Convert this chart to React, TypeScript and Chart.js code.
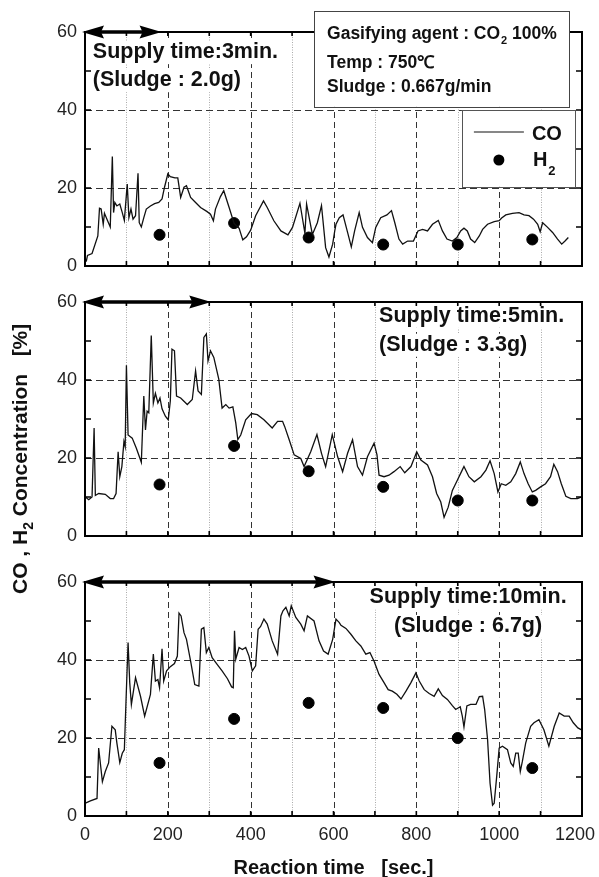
import React, { useEffect, useRef } from 'react';
import { Chart, registerables } from 'chart.js';

Chart.register(...registerables);

const FONT = '"Liberation Sans", Arial, Helvetica, sans-serif';

// ---------- Data ----------
// Panel A: supply time 3 min
const timeA = [3, 6, 17, 31, 35, 39, 44, 47, 53, 61, 66, 69, 72, 77, 84, 90, 95, 102, 106, 111, 116, 122, 128, 131, 136, 142, 148, 158, 168, 178, 186, 192, 200, 206, 217, 224, 231, 239, 245, 255, 267, 279, 294, 303, 310, 315, 327, 335, 348, 360, 372, 381, 390, 400, 412, 431, 440, 456, 473, 490, 501, 519, 531, 535, 549, 561, 571, 581, 589, 598, 603, 606, 614, 623, 634, 643, 651, 662, 670, 682, 694, 702, 714, 729, 740, 748, 758, 767, 779, 793, 804, 815, 827, 839, 853, 863, 874, 887, 898, 907, 915, 923, 931, 941, 952, 960, 972, 988, 1000, 1006, 1016, 1032, 1048, 1060, 1072, 1083, 1093, 1099, 1105, 1117, 1129, 1141, 1151, 1159, 1167];
const coA = [1.1, 2.7, 3.2, 7.7, 14.8, 14.6, 10.7, 13.5, 12, 10, 28.1, 13.7, 16.3, 15.4, 15.9, 13.7, 11.7, 21, 12.4, 14.6, 12, 12.9, 23.8, 11.1, 10, 12.4, 14.6, 15.4, 16, 16.3, 17.2, 20.2, 23.6, 22.9, 22.6, 22.6, 17.6, 20.2, 20.6, 17.6, 16.3, 15, 14, 13.3, 11.6, 14.6, 17.8, 19.3, 15, 10.9, 9.7, 6.7, 7.5, 9.2, 12.9, 16.7, 15, 11.6, 9, 8, 9.9, 16.1, 8.4, 15.9, 8.1, 11.1, 15.5, 4.7, 2.3, 5.6, 9, 10.7, 12.4, 13.1, 8.6, 4.9, 9, 13.7, 9.9, 7.3, 6, 9.9, 12.4, 13.1, 14.2, 11.1, 6.9, 5.6, 6.4, 6.4, 9, 9.4, 9, 10.7, 11.7, 9, 6.9, 6.4, 7.3, 9, 9.7, 9, 6.9, 6, 7.7, 9.4, 10.7, 11.4, 11.6, 12.3, 13.1, 13.5, 13.7, 13.1, 12.9, 12, 10.7, 8.8, 11.1, 9.9, 8.6, 6.9, 5.6, 6.4, 7.3];

// Panel B: supply time 5 min
const timeB = [1, 9, 17, 22, 25, 33, 49, 61, 69, 75, 80, 84, 89, 94, 97, 100, 104, 114, 124, 136, 142, 146, 150, 154, 160, 165, 170, 176, 181, 186, 194, 201, 206, 210, 216, 221, 231, 247, 259, 267, 273, 281, 287, 293, 297, 303, 311, 323, 331, 340, 348, 357, 364, 369, 376, 388, 402, 416, 432, 452, 465, 477, 482, 493, 505, 521, 529, 545, 560, 571, 581, 597, 610, 622, 634, 646, 658, 670, 682, 698, 705, 710, 722, 734, 746, 761, 772, 787, 801, 811, 827, 839, 849, 859, 867, 877, 887, 899, 909, 915, 927, 940, 956, 968, 978, 988, 997, 1005, 1016, 1028, 1040, 1051, 1060, 1070, 1080, 1088, 1100, 1112, 1124, 1132, 1141, 1150, 1161, 1173, 1189, 1199];
const coB = [10, 9.3, 10, 27.7, 10.4, 10.9, 10.7, 9.6, 9.6, 10.9, 21.6, 15.2, 17.8, 24.2, 22.9, 43.8, 25.9, 25.1, 22.5, 18.9, 35.9, 27.2, 32, 31.6, 51.4, 34.1, 36.6, 34.1, 35.4, 32.6, 30.7, 29.8, 34.6, 47.9, 47.5, 35.9, 35.4, 33.7, 35, 42.3, 37.2, 36.3, 50.9, 51.8, 44.9, 47.5, 45.8, 40.2, 32.8, 33.7, 32.8, 33.1, 29, 24.7, 25.9, 29.8, 31.4, 31.1, 29.8, 27.7, 29.4, 29.4, 28.1, 24.7, 20.8, 19.9, 17.8, 21.6, 26, 21.2, 17.8, 26, 20.3, 16.5, 21.2, 24.7, 17.8, 15.6, 20.3, 23.8, 20.8, 15.6, 15.2, 15.6, 16.5, 17.8, 16.2, 17.8, 21.6, 19.5, 18.2, 15.2, 10.9, 8.7, 4.8, 7.4, 11.7, 14.3, 16.5, 17.8, 15.2, 13.9, 15.2, 16.9, 19.3, 16, 11.3, 13.4, 13, 13.9, 16, 19, 16, 13.4, 11.3, 11.7, 12.6, 13.4, 15.2, 18.4, 16.5, 13.4, 10.2, 9.6, 9.6, 10];

// Panel C: supply time 10 min
const timeC = [1, 13, 29, 33, 37, 42, 49, 57, 65, 73, 77, 84, 90, 95, 99, 104, 108, 112, 122, 134, 144, 158, 165, 170, 176, 180, 186, 190, 197, 206, 216, 223, 227, 232, 239, 245, 255, 265, 275, 281, 287, 293, 299, 307, 319, 331, 344, 354, 358, 361, 364, 372, 380, 388, 396, 404, 412, 418, 424, 432, 440, 452, 465, 473, 478, 485, 493, 498, 509, 521, 529, 537, 553, 565, 576, 587, 598, 606, 614, 618, 630, 642, 654, 666, 678, 688, 698, 710, 722, 732, 742, 753, 763, 775, 787, 799, 807, 819, 831, 843, 853, 863, 875, 887, 895, 906, 911, 915, 922, 931, 944, 952, 960, 965, 972, 978, 984, 988, 994, 1000, 1008, 1020, 1028, 1034, 1040, 1046, 1051, 1056, 1064, 1076, 1084, 1096, 1108, 1120, 1133, 1145, 1157, 1169, 1179, 1190, 1199];
const coC = [3.3, 3.9, 4.5, 17.4, 13.6, 8.8, 11.4, 13.6, 23, 22.1, 18.7, 13.7, 16.1, 17, 29.4, 44.5, 34.2, 28.6, 35.5, 30.7, 25.6, 31.2, 41.5, 34.6, 35, 32.9, 42.9, 34.6, 37.2, 38.3, 39.1, 41, 52, 51.3, 47, 45.3, 39.7, 33.7, 33.3, 47.9, 48.3, 41.9, 43.2, 40.6, 38.9, 37.2, 35.2, 33.1, 32.9, 47.5, 40.2, 43.2, 42.7, 43.2, 41, 37.2, 38.5, 47.9, 48.6, 50.5, 49.2, 44.9, 41.5, 51.3, 52.6, 53.5, 51.3, 53.9, 50.9, 49.2, 47.5, 51.3, 50, 44.9, 42.3, 41.5, 45.3, 50.5, 49.6, 48.9, 48.1, 46.6, 44.9, 43.6, 41.5, 41.9, 39.7, 36.3, 34.2, 32.4, 32, 31.2, 30, 32, 34.2, 36.7, 34.6, 32.4, 31.4, 30.7, 32.6, 30.9, 29.9, 28.3, 27.3, 28, 25.6, 22.8, 28.2, 28.6, 28.6, 30.6, 30.7, 27.3, 19.6, 8.4, 2.8, 3.3, 10.1, 17.4, 17.9, 17, 13.6, 12.7, 16.1, 16.1, 11.4, 14, 18.7, 23, 23.9, 24.7, 22.1, 17.9, 23, 26.4, 25.6, 25.6, 23.9, 22.6, 22.1];

// H2 sampling points
const h2Time = [180, 360, 540, 720, 900, 1080];
const h2A = [8, 11, 7.3, 5.5, 5.5, 6.8];
const h2B = [13.2, 23.1, 16.6, 12.6, 9.1, 9.1];
const h2C = [13.6, 24.9, 29, 27.7, 20, 12.3];

// Supply periods (sec.)
const supplyEnd = [180, 300, 600];
const supplyLabels = ['Supply time:3min.', 'Supply time:5min.', 'Supply time:10min.'];
const sludgeLabels = ['(Sludge : 2.0g)', '(Sludge : 3.3g)', '(Sludge : 6.7g)'];

const xTicks = [0, 200, 400, 600, 800, 1000, 1200];
const xMinorGrid = [100, 200, 300, 400, 500, 600, 700, 800, 900, 1000, 1100];
const yGrid = [20, 40];
const yMinor = [10, 20, 30, 40, 50];

const W = 599;
const H = 877;

type Panel = {
  time: number[];
  co: number[];
  h2: number[];
  top: number;
  bottom: number;
  idx: number;
};

const panels: Panel[] = [
  { time: timeA, co: coA, h2: h2A, top: 32, bottom: 266, idx: 0 },
  { time: timeB, co: coB, h2: h2B, top: 302, bottom: 536, idx: 1 },
  { time: timeC, co: coC, h2: h2C, top: 582, bottom: 816, idx: 2 },
];

function textWithBg(ctx: CanvasRenderingContext2D, text: string, x: number, baseline: number, font: string, align: CanvasTextAlign) {
  ctx.save();
  ctx.font = font;
  const w = ctx.measureText(text).width;
  let left = x;
  if (align === 'center') left = x - w / 2;
  if (align === 'right') left = x - w;
  ctx.fillStyle = '#fff';
  ctx.fillRect(left - 2, baseline - 17, w + 4, 23);
  ctx.fillStyle = '#111';
  ctx.textAlign = 'left';
  ctx.textBaseline = 'alphabetic';
  ctx.fillText(text, left, baseline);
  ctx.restore();
}

function makePlugin(p: Panel) {
  return {
    id: 'decor' + p.idx,
    beforeDatasetsDraw(chart: any) {
      const { ctx, chartArea } = chart;
      const { left, right, top, bottom } = chartArea;
      const xs = chart.scales.x;
      const ys = chart.scales.y;
      ctx.save();
      // vertical grid
      for (const v of xMinorGrid) {
        const px = Math.round(xs.getPixelForValue(v)) + 0.5;
        ctx.beginPath();
        if (v % 200 === 0) {
          ctx.strokeStyle = '#333';
          ctx.lineWidth = 1;
          ctx.setLineDash([6, 4]);
        } else {
          ctx.strokeStyle = '#aaa';
          ctx.lineWidth = 1;
          ctx.setLineDash([1, 1.5]);
        }
        ctx.moveTo(px, top);
        ctx.lineTo(px, bottom);
        ctx.stroke();
      }
      // horizontal grid
      ctx.strokeStyle = '#333';
      ctx.setLineDash([7, 4]);
      for (const v of yGrid) {
        const py = Math.round(ys.getPixelForValue(v)) + 0.5;
        ctx.beginPath();
        ctx.moveTo(left, py);
        ctx.lineTo(right, py);
        ctx.stroke();
      }
      ctx.setLineDash([]);
      ctx.restore();

      // panel annotation text
      const f = `bold 21.5px ${FONT}`;
      if (p.idx === 0) {
        const x0 = xs.getPixelForValue(19);
        textWithBg(ctx, supplyLabels[0], x0, ys.getPixelForValue(53.3), f, 'left');
        textWithBg(ctx, sludgeLabels[0], x0, ys.getPixelForValue(46.1), f, 'left');
      } else if (p.idx === 1) {
        const x0 = xs.getPixelForValue(710);
        textWithBg(ctx, supplyLabels[1], x0, ys.getPixelForValue(54.9), f, 'left');
        textWithBg(ctx, sludgeLabels[1], x0, ys.getPixelForValue(47.5), f, 'left');
      } else {
        const xc = xs.getPixelForValue(925);
        textWithBg(ctx, supplyLabels[2], xc, ys.getPixelForValue(54.5), f, 'center');
        textWithBg(ctx, sludgeLabels[2], xc, ys.getPixelForValue(47.2), f, 'center');
      }
    },
    afterDatasetsDraw(chart: any) {
      const { ctx, chartArea } = chart;
      const { left, right, top, bottom } = chartArea;
      const xs = chart.scales.x;
      const ys = chart.scales.y;
      ctx.save();
      // frame
      ctx.strokeStyle = '#000';
      ctx.lineWidth = 2;
      ctx.strokeRect(left, top, right - left, bottom - top);
      // tick marks
      ctx.lineWidth = 1.6;
      ctx.beginPath();
      for (const v of xMinorGrid) {
        const px = xs.getPixelForValue(v);
        ctx.moveTo(px, bottom);
        ctx.lineTo(px, bottom - 5);
        ctx.moveTo(px, top);
        ctx.lineTo(px, top + 4);
      }
      for (const v of yMinor) {
        const py = ys.getPixelForValue(v);
        ctx.moveTo(left, py);
        ctx.lineTo(left + 6, py);
        ctx.moveTo(right, py);
        ctx.lineTo(right - 6, py);
      }
      ctx.stroke();

      // supply arrow
      const ax0 = xs.getPixelForValue(0) - 3;
      const ax1 = xs.getPixelForValue(supplyEnd[p.idx]) + 2;
      const ay = top;
      ctx.fillStyle = '#000';
      ctx.strokeStyle = '#000';
      ctx.lineWidth = 3.5;
      ctx.beginPath();
      ctx.moveTo(ax0 + 10, ay);
      ctx.lineTo(ax1 - 10, ay);
      ctx.stroke();
      const head = (tip: number, dir: number) => {
        ctx.beginPath();
        ctx.moveTo(tip, ay);
        ctx.lineTo(tip + dir * 22, ay - 6.5);
        ctx.lineTo(tip + dir * 19, ay);
        ctx.lineTo(tip + dir * 22, ay + 6.5);
        ctx.closePath();
        ctx.fill();
      };
      head(ax0, 1);
      head(ax1, -1);

      if (p.idx === 0) {
        // info box
        const bx0 = xs.getPixelForValue(553);
        const bx1 = xs.getPixelForValue(1169);
        const by0 = ys.getPixelForValue(65.4);
        const by1 = ys.getPixelForValue(40.8);
        ctx.fillStyle = '#fff';
        ctx.fillRect(bx0, by0, bx1 - bx0, by1 - by0);
        ctx.strokeStyle = '#444';
        ctx.lineWidth = 1;
        ctx.strokeRect(Math.round(bx0) + 0.5, Math.round(by0) + 0.5, Math.round(bx1 - bx0), Math.round(by1 - by0));
        ctx.fillStyle = '#111';
        ctx.textAlign = 'left';
        ctx.textBaseline = 'alphabetic';
        const f17 = `bold 17.5px ${FONT}`;
        const tx = bx0 + 13;
        ctx.font = f17;
        const s1 = 'Gasifying agent : CO';
        ctx.fillText(s1, tx, by0 + 28);
        const w1 = ctx.measureText(s1).width;
        ctx.font = `bold 11px ${FONT}`;
        ctx.fillText('2', tx + w1 + 1, by0 + 33);
        const w2 = ctx.measureText('2').width;
        ctx.font = f17;
        ctx.fillText(' 100%', tx + w1 + w2 + 1, by0 + 28);
        ctx.fillText('Temp : 750℃', tx, by0 + 57);
        ctx.fillText('Sludge : 0.667g/min', tx, by0 + 81);

        // legend box
        const lx0 = xs.getPixelForValue(910);
        const lx1 = xs.getPixelForValue(1183);
        const ly0 = ys.getPixelForValue(40);
        const ly1 = ys.getPixelForValue(20.3);
        ctx.fillStyle = '#fff';
        ctx.fillRect(lx0, ly0, lx1 - lx0, ly1 - ly0);
        ctx.strokeStyle = '#555';
        ctx.lineWidth = 1;
        ctx.strokeRect(Math.round(lx0) + 0.5, Math.round(ly0) + 0.5, Math.round(lx1 - lx0), Math.round(ly1 - ly0));
        ctx.strokeStyle = '#111';
        ctx.lineWidth = 1.2;
        ctx.beginPath();
        ctx.moveTo(lx0 + 12, ly0 + 22);
        ctx.lineTo(lx0 + 62, ly0 + 22);
        ctx.stroke();
        ctx.fillStyle = '#000';
        ctx.beginPath();
        ctx.arc(lx0 + 37, ly0 + 50, 5.5, 0, Math.PI * 2);
        ctx.fill();
        ctx.fillStyle = '#111';
        ctx.font = `bold 20px ${FONT}`;
        ctx.fillText('CO', lx0 + 70, ly0 + 30);
        ctx.fillText('H', lx0 + 71, ly0 + 56);
        const hw = ctx.measureText('H').width;
        ctx.font = `bold 13px ${FONT}`;
        ctx.fillText('2', lx0 + 71 + hw + 1, ly0 + 65);
      }

      if (p.idx === 1) {
        // y axis title (rotated)
        ctx.save();
        ctx.translate(27, 594);
        ctx.rotate(-Math.PI / 2);
        ctx.fillStyle = '#111';
        ctx.textAlign = 'left';
        ctx.textBaseline = 'alphabetic';
        let cx = 0;
        const seg = (t: string, font: string, dy: number) => {
          ctx.font = font;
          ctx.fillText(t, cx, dy);
          cx += ctx.measureText(t).width;
        };
        seg('CO , H', `bold 21px ${FONT}`, 0);
        seg('2', `bold 14px ${FONT}`, 6);
        seg(' Concentration', `bold 21px ${FONT}`, 0);
        seg('   [%]', `bold 21px ${FONT}`, 0);
        ctx.restore();
      }

      if (p.idx === 2) {
        // x tick labels
        ctx.fillStyle = '#222';
        ctx.font = `18px ${FONT}`;
        ctx.textAlign = 'center';
        ctx.textBaseline = 'middle';
        for (const v of xTicks) {
          let px = xs.getPixelForValue(v);
          const w = ctx.measureText(String(v)).width;
          if (px + w / 2 > W - 4) px = W - 4 - w / 2;
          ctx.fillText(String(v), px, bottom + 19);
        }
        // x title
        ctx.fillStyle = '#111';
        ctx.font = `bold 20px ${FONT}`;
        ctx.textBaseline = 'alphabetic';
        ctx.fillText('Reaction time   [sec.]', (left + right) / 2, bottom + 58);
      }
      ctx.restore();
    },
  };
}

function PanelChart({ p }: { p: Panel }) {
  const ref = useRef<HTMLCanvasElement | null>(null);
  useEffect(() => {
    if (!ref.current) return;
    const chart = new Chart(ref.current, {
      type: 'line',
      data: {
        datasets: [
          {
            type: 'line',
            label: 'CO',
            data: p.time.map((t, i) => ({ x: t, y: p.co[i] })),
            borderColor: '#111',
            borderWidth: 1.3,
            pointRadius: 0,
            tension: 0,
            fill: false,
          },
          {
            type: 'scatter',
            label: 'H2',
            data: h2Time.map((t, i) => ({ x: t, y: p.h2[i] })),
            backgroundColor: '#000',
            borderColor: '#000',
            pointRadius: 5.5,
            showLine: false,
          },
        ],
      } as any,
      options: {
        responsive: false,
        animation: false,
        events: [],
        layout: { padding: { top: p.top, bottom: H - p.bottom, left: 0, right: W - 582 } },
        plugins: { legend: { display: false }, tooltip: { enabled: false } },
        scales: {
          x: { type: 'linear', display: false, min: 0, max: 1200 },
          y: {
            type: 'linear',
            position: 'left',
            min: 0,
            max: 60,
            afterFit: (s: any) => {
              s.width = 85;
            },
            grid: { display: false, drawTicks: false },
            border: { display: false },
            ticks: { stepSize: 20, padding: 8, color: '#222', font: { family: FONT, size: 18 } },
          },
        },
      } as any,
      plugins: [makePlugin(p)],
    });
    return () => chart.destroy();
  }, [p]);
  return (
    <canvas
      ref={ref}
      width={W}
      height={H}
      style={{ position: 'absolute', left: 0, top: 0, width: W, height: H }}
    />
  );
}

export default function App() {
  return (
    <div style={{ position: 'absolute', left: 0, top: 0, width: W, height: H, background: '#fff' }}>
      {panels.map((p) => (
        <PanelChart key={p.idx} p={p} />
      ))}
    </div>
  );
}
